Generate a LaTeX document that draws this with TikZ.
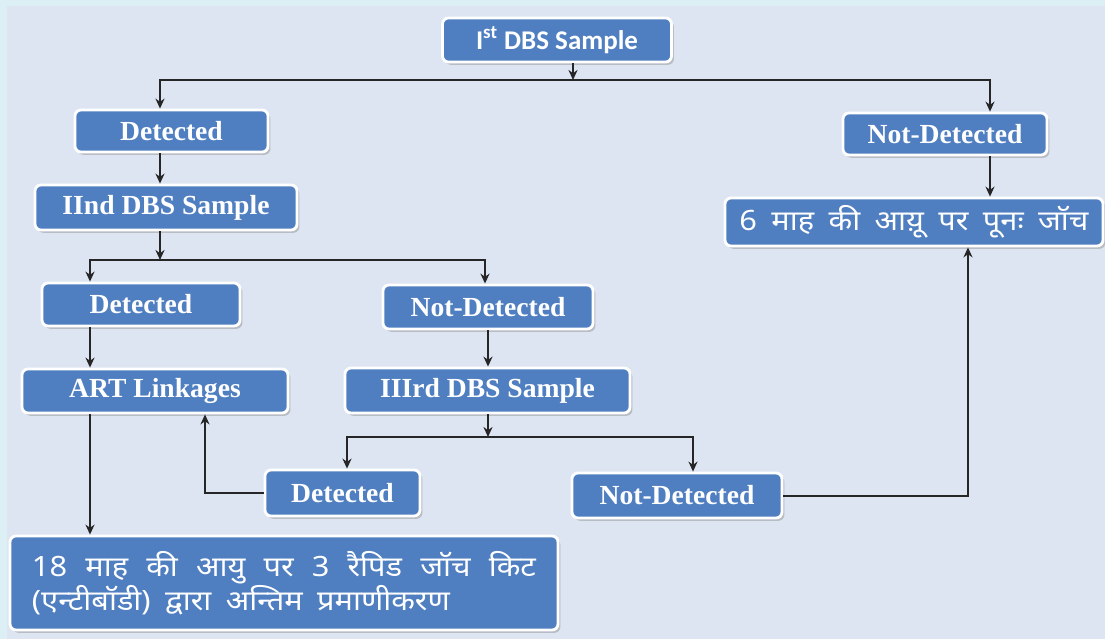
\documentclass[tikz,border=0pt]{standalone}
\usepackage{fontspec}
\setmainfont{Liberation Serif}
\newfontfamily\hindifont[Script=Devanagari,WordSpace=1.8,FakeStretch=1.1]{Noto Sans}
\newfontfamily\calibfont{Carlito}
\usetikzlibrary{arrows.meta,shadows}
\definecolor{boxblue}{HTML}{4F7FC1}
\definecolor{bgpale}{HTML}{DDE4F2}
\definecolor{bgedge}{HTML}{DCEFF4}

\begin{document}
\begin{tikzpicture}[>={Stealth[length=5pt,width=4.5pt]}, x=0.5pt, y=-0.5pt,
    flowbox/.style={rectangle, rounded corners=3pt, fill=boxblue, draw=white,
      line width=1.4pt, text=white, inner sep=2pt,
      font=\bfseries\fontsize{13.8}{15}\selectfont,
      drop shadow={shadow xshift=1.2pt, shadow yshift=-1.4pt, fill=black!45, opacity=.45}},
    hindibox/.style={flowbox, font=\hindifont\fontsize{14}{17}\selectfont},
    link/.style={->, line width=1pt, black!85}]
  % background
  \fill[bgedge] (0,0) rectangle (1105,639);
  \fill[bgpale] (7,6) rectangle (1105,639);
  \useasboundingbox (0,0) rectangle (1105,639);

  % boxes
  \node[flowbox, minimum width=114.5pt, minimum height=22pt,
        font=\calibfont\bfseries\fontsize{13.5}{15}\selectfont] (s1) at (557,40)
        {I\textsuperscript{st} DBS Sample};
  \node[flowbox, minimum width=96.5pt, minimum height=21pt] (det1) at (171.5,131) {Detected};
  \node[flowbox, minimum width=102pt, minimum height=21pt] (nd1) at (945,134) {Not-Detected};
  \node[flowbox, minimum width=131pt, minimum height=22.5pt] (s2) at (166,207.5) {IInd DBS Sample};
  \node[hindibox, minimum width=189pt, minimum height=24pt] (six) at (914,222)
        {6 माह की आय़ू पर पूनः जॉच};
  \node[flowbox, minimum width=99pt, minimum height=21.5pt] (det2) at (141,304.5) {Detected};
  \node[flowbox, minimum width=105pt, minimum height=22pt] (nd2) at (488,307) {Not-Detected};
  \node[flowbox, minimum width=133pt, minimum height=22pt] (art) at (155,391) {ART Linkages};
  \node[flowbox, minimum width=142.5pt, minimum height=22.5pt] (s3) at (487.5,390.5) {IIIrd DBS Sample};
  \node[flowbox, minimum width=77.5pt, minimum height=23pt] (det3) at (342.5,493) {Detected};
  \node[flowbox, minimum width=105pt, minimum height=22.5pt] (nd3) at (677,495.5) {Not-Detected};
  \node[hindibox, minimum height=47pt, text width=252pt, inner xsep=11pt,
        align=justify] (final) at (284,583)
        {18 माह की आयु पर 3 रैपिड जॉच किट\linebreak (एन्टीबॉडी) द्वारा अन्तिम प्रमाणीकरण};

  % junctions and columns
  \coordinate (j1) at (573,80);
  \coordinate (j2) at (160,260);
  \coordinate (j3) at (488,437);
  \coordinate (xa) at (160,0);
  \coordinate (xb) at (990,0);
  \coordinate (xd) at (90,0);
  \coordinate (xe) at (485,0);
  \coordinate (xf) at (347,0);
  \coordinate (xg) at (693,0);
  \coordinate (xh) at (205,0);
  \coordinate (xi) at (968,0);

  % connectors
  \draw[link] (s1.south -| j1) -- (j1);
  \draw[link] (j1) -| (det1.north -| xa);
  \draw[link] (j1) -| (nd1.north -| xb);
  \draw[link] (det1.south -| xa) -- (s2.north -| xa);
  \draw[link] (nd1.south -| xb) -- (six.north -| xb);
  \draw[link] (s2.south -| j2) -- (j2);
  \draw[link] (j2) -| (det2.north -| xd);
  \draw[link] (j2) -| (nd2.north -| xe);
  \draw[link] (det2.south -| xd) -- (art.north -| xd);
  \draw[link] (nd2.south -| j3) -- (s3.north -| j3);
  \draw[link] (s3.south -| j3) -- (j3);
  \draw[link] (j3) -| (det3.north -| xf);
  \draw[link] (j3) -| (nd3.north -| xg);
  \draw[link] (det3.west) -| (art.south -| xh);
  \draw[link] (art.south -| xd) -- (final.north -| xd);
  \draw[link] (nd3.east) -| (six.south -| xi);
\end{tikzpicture}
\end{document}
